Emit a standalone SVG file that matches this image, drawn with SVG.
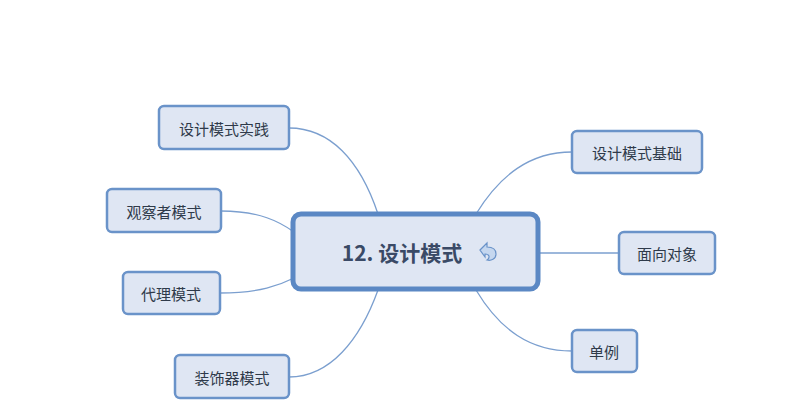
<svg xmlns="http://www.w3.org/2000/svg" width="798" height="400" viewBox="0 0 798 400">
<style>
.n rect{fill:#dfe6f3;stroke:#6a93c9;stroke-width:2.5}
.n text{font-family:"Noto Sans CJK SC","Liberation Sans",sans-serif;font-size:15px;fill:#2f3a4a;text-anchor:middle;dominant-baseline:central}
.c path{fill:none;stroke:#7b9fcf;stroke-width:1.3}
</style>
<rect width="798" height="400" fill="#fff"/>
<g class="c">
<path d="M378,214 C360,160 330,128 289,128"/>
<path d="M221,211 C260,211 280,222 294,232"/>
<path d="M220,293 C260,293 280,285 294,278"/>
<path d="M378,290 C360,340 330,377 289,377"/>
<path d="M476,214 C500,175 530,152 572,152"/>
<path d="M539,253 L619,253"/>
<path d="M476,290 C500,330 530,351 572,351"/>
</g>
<g id="center" class="n">
<rect x="293" y="214" width="245" height="75" rx="8" style="stroke-width:5;stroke:#5b88c4"/>
<text x="402" y="252" style="font-size:21px;font-weight:bold;fill:#3a4a66">12. 设计模式</text>
<path d="M480,250 l7,-7 l0,4 c6,0 9,3 9,7 c0,5 -5,7 -9,6 c3,-2 3,-6 -2,-6 l0,3 z" fill="#c5d7ef" stroke="#6a93c9" stroke-width="1.2"/>
</g>
<g id="n1" class="n"><rect x="159" y="106" width="130" height="43" rx="5"/><text x="224" y="128">设计模式实践</text></g>
<g id="n2" class="n"><rect x="107" y="189" width="114" height="43" rx="5"/><text x="164" y="211">观察者模式</text></g>
<g id="n3" class="n"><rect x="123" y="272" width="97" height="42" rx="5"/><text x="171" y="293">代理模式</text></g>
<g id="n4" class="n"><rect x="175" y="355" width="114" height="43" rx="5"/><text x="232" y="377">装饰器模式</text></g>
<g id="n5" class="n"><rect x="572" y="131" width="130" height="42" rx="5"/><text x="637" y="152">设计模式基础</text></g>
<g id="n6" class="n"><rect x="619" y="232" width="96" height="42" rx="5"/><text x="667" y="253">面向对象</text></g>
<g id="n7" class="n"><rect x="572" y="330" width="65" height="42" rx="5"/><text x="604" y="351">单例</text></g>
</svg>
